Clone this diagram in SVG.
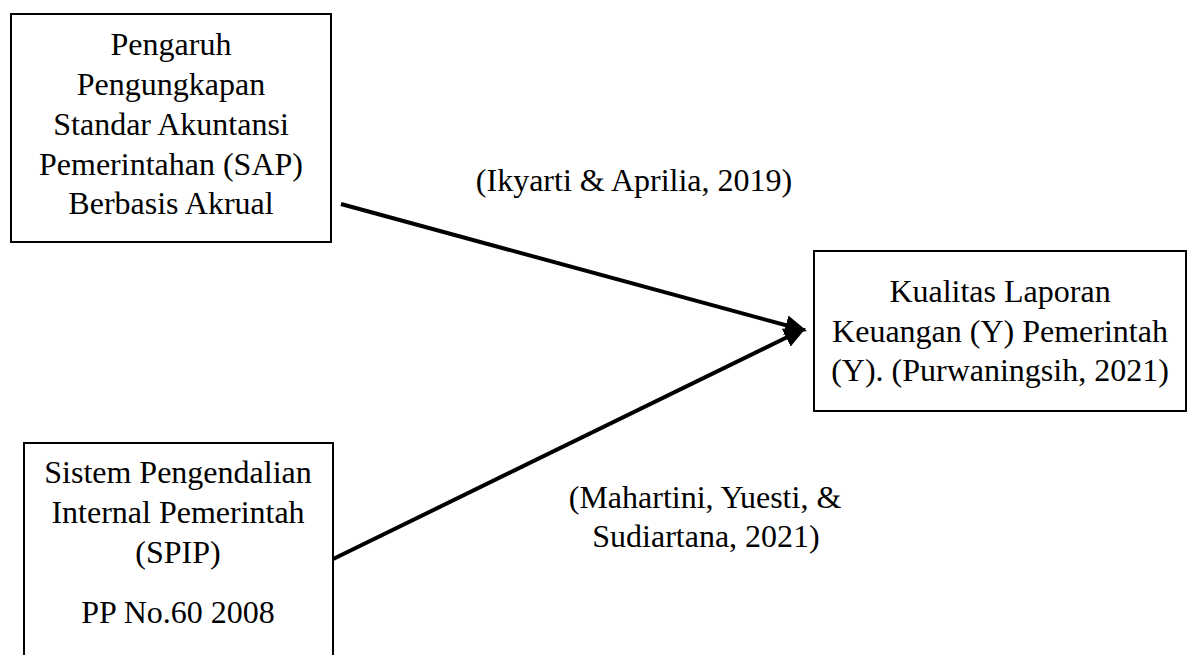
<svg xmlns="http://www.w3.org/2000/svg" width="1189" height="655" viewBox="0 0 1189 655">
<style>
.box{fill:#fff;stroke:#000;stroke-width:2}
.t{font-family:"Liberation Serif","Times New Roman",serif;font-size:32px;fill:#000;text-anchor:middle}
.conn{stroke:#000;stroke-width:4;fill:none}
</style>
<defs>
<marker id="ah" markerUnits="userSpaceOnUse" markerWidth="22" markerHeight="20" refX="6" refY="10" orient="auto">
<path d="M0,0 L22,10 L0,20 z" fill="#000"/>
</marker>
</defs>
<rect width="1189" height="655" fill="#fff"/>
<g id="connectors">
<line class="conn" x1="341" y1="204" x2="791.6" y2="326.8" marker-end="url(#ah)"/>
<line class="conn" x1="327" y1="562" x2="791.6" y2="335" marker-end="url(#ah)"/>
<text class="t" x="634" y="191">(Ikyarti &amp; Aprilia, 2019)</text>
<text class="t" x="705" y="508">(Mahartini, Yuesti, &amp;</text>
<text class="t" x="706" y="547">Sudiartana, 2021)</text>
</g>
<g id="node-sap">
<rect class="box" x="11" y="14" width="320" height="228"/>
<text class="t" x="171" y="55">Pengaruh</text>
<text class="t" x="171" y="95">Pengungkapan</text>
<text class="t" x="171" y="135">Standar Akuntansi</text>
<text class="t" x="171" y="175">Pemerintahan (SAP)</text>
<text class="t" x="171" y="214">Berbasis Akrual</text>
</g>
<g id="node-kualitas">
<rect class="box" x="814" y="251" width="372" height="160"/>
<text class="t" x="1000" y="302">Kualitas Laporan</text>
<text class="t" x="1000" y="342">Keuangan (Y) Pemerintah</text>
<text class="t" x="1000" y="381">(Y). (Purwaningsih, 2021)</text>
</g>
<g id="node-spip">
<rect class="box" x="24" y="443" width="309" height="230"/>
<text class="t" x="178" y="483">Sistem Pengendalian</text>
<text class="t" x="178" y="523">Internal Pemerintah</text>
<text class="t" x="178" y="563">(SPIP)</text>
<text class="t" x="178" y="623">PP No.60 2008</text>
</g>
</svg>
